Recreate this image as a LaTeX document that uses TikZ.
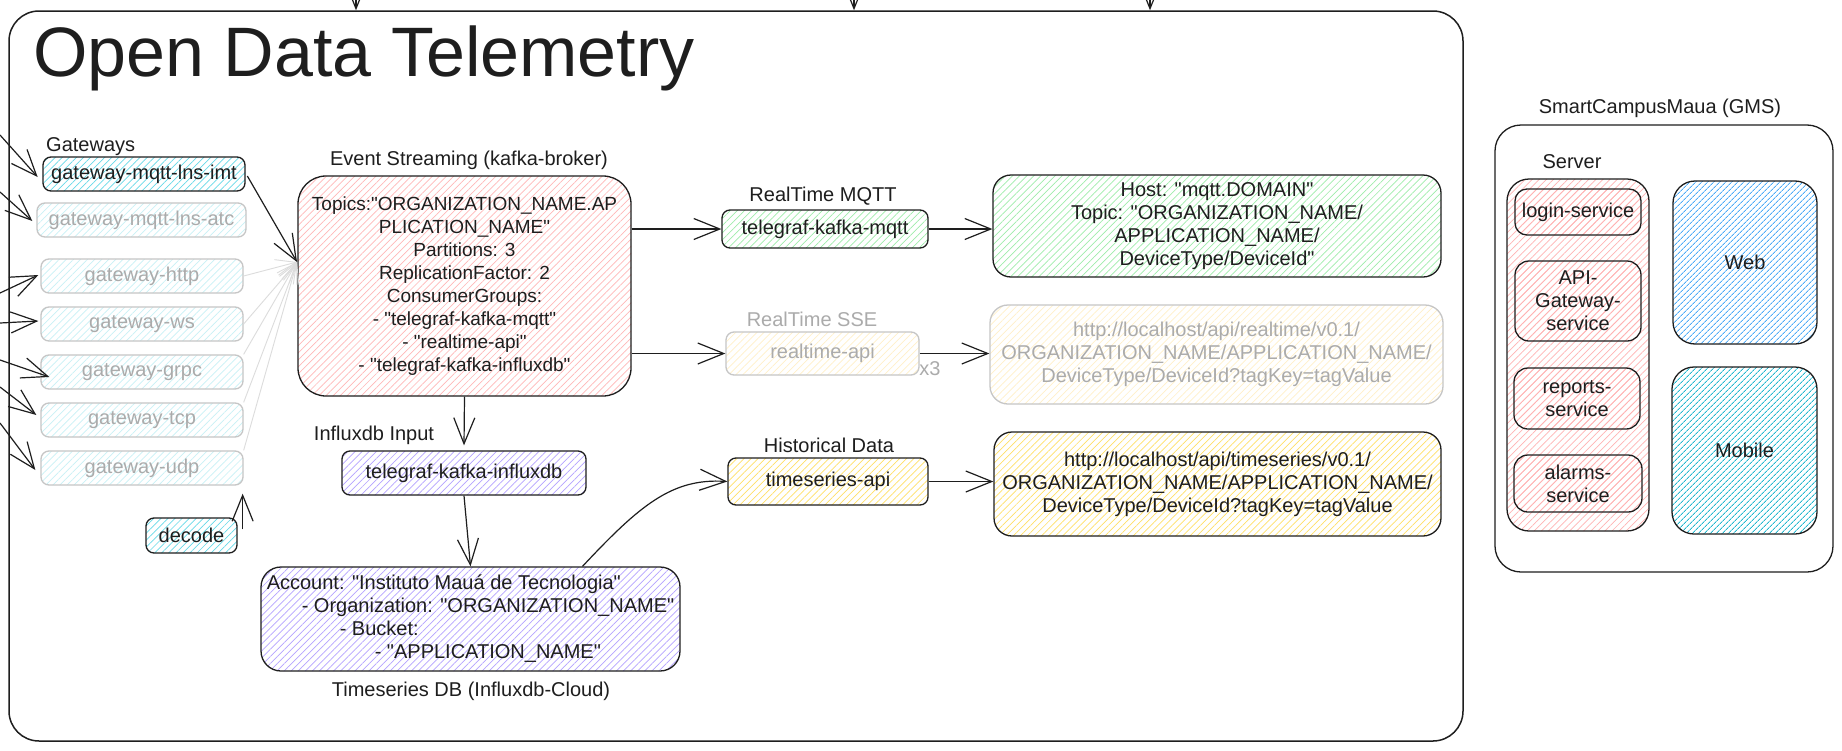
\documentclass[tikz,border=0pt]{standalone}
\usepackage{fontspec}
\setmainfont{Liberation Sans}[Ligatures=TeXOff]
\usetikzlibrary{arrows.meta,patterns.meta,calc}
\definecolor{ink}{HTML}{1E1E1E}
\definecolor{cyanH}{HTML}{66D9E8}
\definecolor{cyanF}{HTML}{C8F1F6}
\definecolor{pinkH}{HTML}{FFB8B8}
\definecolor{pinkS}{HTML}{FFB3B3}
\definecolor{greenH}{HTML}{9EEDAA}
\definecolor{purpleH}{HTML}{B5A3FF}
\definecolor{yellowH}{HTML}{FFE066}
\definecolor{yellowF}{HTML}{FFF0C8}
\definecolor{blueH}{HTML}{4DABF7}
\definecolor{tealH}{HTML}{22B8CF}
\definecolor{grayline}{HTML}{C6C6C6}
\definecolor{graytext}{HTML}{ABABAB}
\definecolor{grayarrow}{HTML}{DCDCDC}
\newcommand\fs{\fontsize{20}{23}\selectfont}
\newcommand\fsk{\fontsize{19}{23}\selectfont}
\newcommand\titlefont{\fontsize{70}{82}\selectfont}
\begin{document}
\begin{tikzpicture}[x=1pt,y=-1pt,
  box/.style={draw=ink, line width=1.3pt, rounded corners=8pt, inner sep=0pt, align=center, font=\fs, text=ink},
  gbox/.style={box, draw=grayline, text=graytext},
  hach/.style={pattern={Lines[angle=45,distance=5pt,line width=0.7pt]}, pattern color=#1},
  dhach/.style={pattern={Lines[angle=45,distance=4pt,line width=1pt]}, pattern color=#1},
  lbl/.style={font=\fs, text=ink, inner sep=0pt},
  glbl/.style={lbl, text=graytext},
  arr/.style={-{Straight Barb[length=26pt,width=21pt]}, line width=1.2pt, draw=ink},
  garr/.style={-{Straight Barb[length=20pt,width=16pt]}, line width=0.9pt, draw=grayarrow},
]
\useasboundingbox (0,0) rectangle (1842,750);
\fill[white] (0,0) rectangle (1842,750);

% main frame
\node[box, minimum width=1454pt, minimum height=730pt, rounded corners=30pt, line width=1.5pt] (main) at (736,376) {};
\node[anchor=base west, font=\titlefont, text=ink, inner sep=0pt] (title) at (33,76) {Open Data Telemetry};

% incoming arrows from above (cut off)
\coordinate (t1) at (356,-30);
\coordinate (t2) at (854,-30);
\coordinate (t3) at (1150,-30);
\draw[arr] (t1) -- (t1 |- main.north);
\draw[arr] (t2) -- (t2 |- main.north);
\draw[arr] (t3) -- (t3 |- main.north);

% gateways
\node[lbl, anchor=base west] (gwlabel) at (46,151) {Gateways};
\node[box, hach=cyanH, minimum width=202pt, minimum height=34pt] (gw1) at (144,174) {gateway-mqtt-lns-imt};
\node[gbox, hach=cyanF, minimum width=209pt, minimum height=34pt] (gw2) at (141.5,220) {gateway-mqtt-lns-atc};
\node[gbox, hach=cyanF, minimum width=202pt, minimum height=34pt] (http) at (142,276) {gateway-http};
\node[gbox, hach=cyanF, minimum width=202pt, minimum height=34pt] (ws) at (142,324) {gateway-ws};
\node[gbox, hach=cyanF, minimum width=202pt, minimum height=34pt] (grpc) at (142,372) {gateway-grpc};
\node[gbox, hach=cyanF, minimum width=202pt, minimum height=34pt] (tcp) at (142,420) {gateway-tcp};
\node[gbox, hach=cyanF, minimum width=202pt, minimum height=34pt] (udp) at (142,468) {gateway-udp};
\node[box, hach=cyanH, minimum width=91pt, minimum height=35pt] (decode) at (191.5,535.5) {decode};

% left incoming arrows
\coordinate (l1) at (0,135);
\coordinate (l2) at (0,192);
\coordinate (l3) at (0,293);
\coordinate (l4) at (0,323);
\coordinate (l5) at (0,360);
\coordinate (l6) at (0,387);
\coordinate (l7) at (0,423);
\draw[arr] (l1) -- ([xshift=-5pt,yshift=-3pt]gw1.west);
\draw[arr] (l2) -- ([xshift=-4pt,yshift=-1pt]gw2.west);
\draw[arr] (l3) -- ([xshift=-2pt,yshift=1pt]http.west);
\draw[arr] (l4) -- ([xshift=-2pt,yshift=3pt]ws.west);
\draw[arr] (l5) -- ([xshift=9pt,yshift=-5pt]grpc.west);
\draw[arr] (l6) -- ([xshift=-4pt,yshift=5pt]tcp.west);
\draw[arr] (l7) -- ([xshift=-5pt,yshift=-2pt]udp.west);

% decode -> udp
\draw[arr] ([xshift=5pt,yshift=-12pt]decode.north east) -- ([xshift=-1pt,yshift=-8pt]udp.south east);

% kafka
\node[lbl] (kafkalabel) at (469,160) {Event Streaming (kafka-broker)};
\node[box, hach=pinkH, rounded corners=28pt, minimum width=333pt, minimum height=220pt, font=\fsk] (kafka) at (464.5,286)
 {Topics:"ORGANIZATION\_NAME.AP\\PLICATION\_NAME"\\Partitions: 3\\ReplicationFactor: 2\\ConsumerGroups:\\- "telegraf-kafka-mqtt"\\- "realtime-api"\\- "telegraf-kafka-influxdb"};
\coordinate (kin) at (297,262);

% gateways -> kafka
\draw[garr] (http.east) -- (kin);
\draw[garr] (ws.east) -- (kin);
\draw[garr] (grpc.north east) -- (kin);
\draw[garr] (tcp.north east) -- (kin);
\draw[garr] (udp.north east) -- (kin);
\draw[arr] ([xshift=2pt,yshift=-2pt]gw1.east) -- (kin);

% realtime mqtt
\node[lbl] (mqttlabel) at (823,196) {RealTime MQTT};
\node[box, hach=greenH, minimum width=206pt, minimum height=38pt] (mqttbox) at (825,229) {telegraf-kafka-mqtt};
\node[box, hach=greenH, rounded corners=18pt, minimum width=448pt, minimum height=102pt] (mqtttarget) at (1217,226)
 {Host: "mqtt.DOMAIN"\\Topic: "ORGANIZATION\_NAME/\\APPLICATION\_NAME/\\DeviceType/DeviceId"};
\draw[arr] (kafka.east |- mqttbox.west) -- (mqttbox.west);
\draw[arr] (mqttbox.east) -- (mqttbox.east -| mqtttarget.west);

% realtime sse
\node[glbl] (sselabel) at (812,319) {RealTime SSE};
\node[gbox, hach=yellowF, minimum width=193pt, minimum height=43pt] (rtapi) at (822.5,353.5) {realtime-api};
\node[glbl] (x3) at (930,369) {x3};
\node[gbox, hach=yellowF, rounded corners=18pt, minimum width=453pt, minimum height=99pt] (rttarget) at (1216.5,354.5)
 {http://localhost/api/realtime/v0.1/\\ORGANIZATION\_NAME/APPLICATION\_NAME/\\DeviceType/DeviceId?tagKey=tagValue};
\draw[arr] (kafka.east |- rtapi.west) -- (rtapi.west);
\draw[arr] (rtapi.east) -- (rtapi.east -| rttarget.west);

% influx input
\node[lbl] (inlabel) at (374,435) {Influxdb Input};
\node[box, hach=purpleH, minimum width=244pt, minimum height=44pt] (tkinflux) at (464,473) {telegraf-kafka-influxdb};
\draw[arr] (kafka.south) -- ([yshift=5pt]tkinflux.north);
\node[box, hach=purpleH, rounded corners=20pt, minimum width=419pt, minimum height=104pt, align=left] (influxdb) at (470.5,619)
 {Account: "Instituto Mauá de Tecnologia"\\\hspace*{35pt}- Organization: "ORGANIZATION\_NAME"\\\hspace*{73pt}- Bucket:\\\hspace*{108pt}- "APPLICATION\_NAME"};
\node[lbl] (dblabel) at (471,691) {Timeseries DB (Influxdb-Cloud)};
\draw[arr] (tkinflux.south) -- (influxdb.north);

% historical data
\node[lbl] (histlabel) at (829,445) {Historical Data};
\node[box, hach=yellowH, minimum width=200pt, minimum height=47pt] (tsapi) at (828,481.5) {timeseries-api};
\node[box, hach=yellowH, rounded corners=18pt, minimum width=447pt, minimum height=104pt] (tstarget) at (1217.5,484)
 {http://localhost/api/timeseries/v0.1/\\ORGANIZATION\_NAME/APPLICATION\_NAME/\\DeviceType/DeviceId?tagKey=tagValue};
\draw[arr] ([xshift=112pt]influxdb.north) .. controls (640,505) and (672,478) .. (tsapi.west);
\draw[arr] (tsapi.east) -- (tsapi.east -| tstarget.west);

% SmartCampusMaua
\node[lbl] (gmslabel) at (1660,108) {SmartCampusMaua (GMS)};
\node[box, rounded corners=26pt, minimum width=338pt, minimum height=447pt] (gms) at (1664,348.5) {};
\node[lbl] (serverlabel) at (1572,162) {Server};
\node[box, hach=pinkS, rounded corners=22pt, minimum width=142pt, minimum height=352pt] (server) at (1578,355) {};
\node[box, hach=pinkS, rounded corners=12pt, minimum width=126pt, minimum height=46pt] (login) at (1578,212) {login-service};
\node[box, hach=pinkS, rounded corners=14pt, minimum width=126pt, minimum height=80pt] (apigw) at (1578,301) {API-\\Gateway-\\service};
\node[box, hach=pinkS, rounded corners=14pt, minimum width=126pt, minimum height=61pt] (reports) at (1577,398.5) {reports-\\service};
\node[box, hach=pinkS, rounded corners=14pt, minimum width=128pt, minimum height=57pt] (alarms) at (1578,483.5) {alarms-\\service};
\node[box, dhach=blueH, rounded corners=22pt, minimum width=144pt, minimum height=163pt] (web) at (1745,262.5) {Web};
\node[box, dhach=tealH, rounded corners=22pt, minimum width=145pt, minimum height=167pt] (mobile) at (1744.5,450.5) {Mobile};
\end{tikzpicture}
\end{document}
